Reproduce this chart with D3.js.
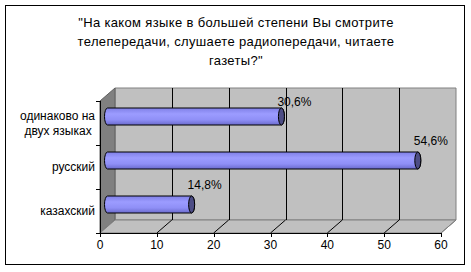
<!DOCTYPE html>
<html>
<head>
<meta charset="utf-8">
<script src="https://cdn.jsdelivr.net/npm/d3@7"></script>
<style>
  body { margin: 0; background: #fff; }
  svg { display: block; font-family: Arial, "Liberation Sans", sans-serif; }
</style>
</head>
<body>
<svg id="chart" width="471" height="272"></svg>
<script>
// data
const categories = ["казахский", "русский", "одинаково на двух языках"];
const categoryLines = [["казахский"], ["русский"], ["одинаково на", "двух языках "]];
const values = [14.8, 54.6, 30.6];
const valueLabels = ["14,8%", "54,6%", "30,6%"];
const xTicks = [0, 10, 20, 30, 40, 50, 60];
const titleLines = [
  "\"На каком языке в большей степени Вы смотрите",
  "телепередачи, слушаете радиопередачи, читаете",
  "газеты?\""
];

const svg = d3.select("#chart");
const depthX = 15, depthY = -13;

// outer frame
svg.append("rect")
  .attr("x", 5.5).attr("y", 5.5)
  .attr("width", 459).attr("height", 259)
  .attr("fill", "#fff").attr("stroke", "#000");

// title
svg.append("text")
  .attr("x", 236).attr("y", 27)
  .attr("text-anchor", "middle")
  .attr("font-size", 13)
  .attr("letter-spacing", 0.35)
  .selectAll("tspan")
  .data(titleLines)
  .join("tspan")
  .attr("x", 236)
  .attr("dy", (d, i) => i === 0 ? 0 : 19)
  .text(d => d);

const x = d3.scaleLinear().domain([0, 60]).range([100, 441]);
const y = d3.scaleBand().domain(categories).range([233, 101]);

const x0 = x(0), x1 = x(60), yTop = 101, yBot = 233;

// back wall
svg.append("polygon")
  .attr("points", [[x0 + depthX, yTop + depthY], [x1 + depthX, yTop + depthY], [x1 + depthX, yBot + depthY], [x0 + depthX, yBot + depthY]].join(" "))
  .attr("fill", "#c0c0c0").attr("stroke", "#808080");

// left wall
svg.append("polygon")
  .attr("points", [[x0, yTop], [x0 + depthX, yTop + depthY], [x0 + depthX, yBot + depthY], [x0, yBot]].join(" "))
  .attr("fill", "#808080").attr("stroke", "#606060");

// floor
svg.append("polygon")
  .attr("points", [[x0, yBot], [x1, yBot], [x1 + depthX, yBot + depthY], [x0 + depthX, yBot + depthY]].join(" "))
  .attr("fill", "#c0c0c0").attr("stroke", "#808080");

// gridlines on back wall + floor diagonals
const gridVals = xTicks.slice(1, -1);
svg.append("g").selectAll("line")
  .data(gridVals)
  .join("line")
  .attr("x1", d => Math.round(x(d) + depthX) + 0.5)
  .attr("x2", d => Math.round(x(d) + depthX) + 0.5)
  .attr("y1", yTop + depthY)
  .attr("y2", yBot + depthY)
  .attr("stroke", "#000");

svg.append("g").selectAll("line")
  .data(xTicks.slice(1))
  .join("line")
  .attr("x1", d => x(d))
  .attr("y1", yBot)
  .attr("x2", d => x(d) + depthX)
  .attr("y2", yBot + depthY)
  .attr("stroke", d => d === 60 ? "#808080" : "#000");

// axes lines
svg.append("line")
  .attr("x1", x0 + 0.5).attr("x2", x0 + 0.5)
  .attr("y1", yTop).attr("y2", yBot)
  .attr("stroke", "#000");
svg.append("line")
  .attr("x1", x0).attr("x2", x1)
  .attr("y1", yBot + 0.5).attr("y2", yBot + 0.5)
  .attr("stroke", "#000");

// x ticks
const xAxis = svg.append("g");
xAxis.selectAll("line")
  .data(xTicks)
  .join("line")
  .attr("x1", d => Math.round(x(d)) + 0.5)
  .attr("x2", d => Math.round(x(d)) + 0.5)
  .attr("y1", yBot).attr("y2", yBot + 4)
  .attr("stroke", "#000");
xAxis.selectAll("text")
  .data(xTicks)
  .join("text")
  .attr("x", d => x(d))
  .attr("y", 249)
  .attr("text-anchor", "middle")
  .attr("font-size", 12)
  .text(d => d);

// y ticks at band boundaries
const bounds = categories.map(c => y(c)).concat([yBot]);
svg.append("g").selectAll("line")
  .data(bounds)
  .join("line")
  .attr("x1", x0 - 4).attr("x2", x0)
  .attr("y1", d => Math.round(d) + 0.5)
  .attr("y2", d => Math.round(d) + 0.5)
  .attr("stroke", "#000");

// category labels
svg.append("g").selectAll("text")
  .data(categories)
  .join("text")
  .attr("text-anchor", "end")
  .attr("font-size", 12)
  .attr("xml:space", "preserve")
  .each(function (c, i) {
    const lines = categoryLines[i];
    const cy = y(c) + y.bandwidth() / 2 + 4;
    d3.select(this).selectAll("tspan")
      .data(lines)
      .join("tspan")
      .attr("x", 95)
      .attr("y", (d, j) => cy + (j - (lines.length - 1) / 2) * 15)
      .text(d => d);
  });

// gradient for cylinders
const defs = svg.append("defs");
const grad = defs.append("linearGradient")
  .attr("id", "cyl").attr("x1", 0).attr("y1", 0).attr("x2", 0).attr("y2", 1);
grad.append("stop").attr("offset", "0%").attr("stop-color", "#7f7fe6");
grad.append("stop").attr("offset", "35%").attr("stop-color", "#9c9cff");
grad.append("stop").attr("offset", "70%").attr("stop-color", "#8f8ff6");
grad.append("stop").attr("offset", "100%").attr("stop-color", "#6a6acc");

// bars
const barH = 17, rx = 3;
const bars = svg.append("g");
categories.forEach((c, i) => {
  const cy = y(c) + y.bandwidth() / 2 + depthY / 2;
  const top = cy - barH / 2, bot = cy + barH / 2;
  const bx0 = x(0) + depthX / 2, bx1 = x(values[i]) + depthX / 2;
  const ry = barH / 2;
  bars.append("path")
    .attr("d", `M${bx0},${top} L${bx1},${top} A${rx},${ry} 0 0 1 ${bx1},${bot} L${bx0},${bot} A${rx},${ry} 0 0 1 ${bx0},${top} Z`)
    .attr("fill", "url(#cyl)").attr("stroke", "#000").attr("stroke-width", 1);
  bars.append("ellipse")
    .attr("cx", bx1).attr("cy", cy)
    .attr("rx", rx).attr("ry", ry)
    .attr("fill", "#4d4d85").attr("stroke", "#000");
  bars.append("text")
    .attr("x", bx1 - 4)
    .attr("y", Math.max(top - 7, yTop + depthY + 18))
    .attr("font-size", 12)
    .text(valueLabels[i]);
});
</script>
</body>
</html>
